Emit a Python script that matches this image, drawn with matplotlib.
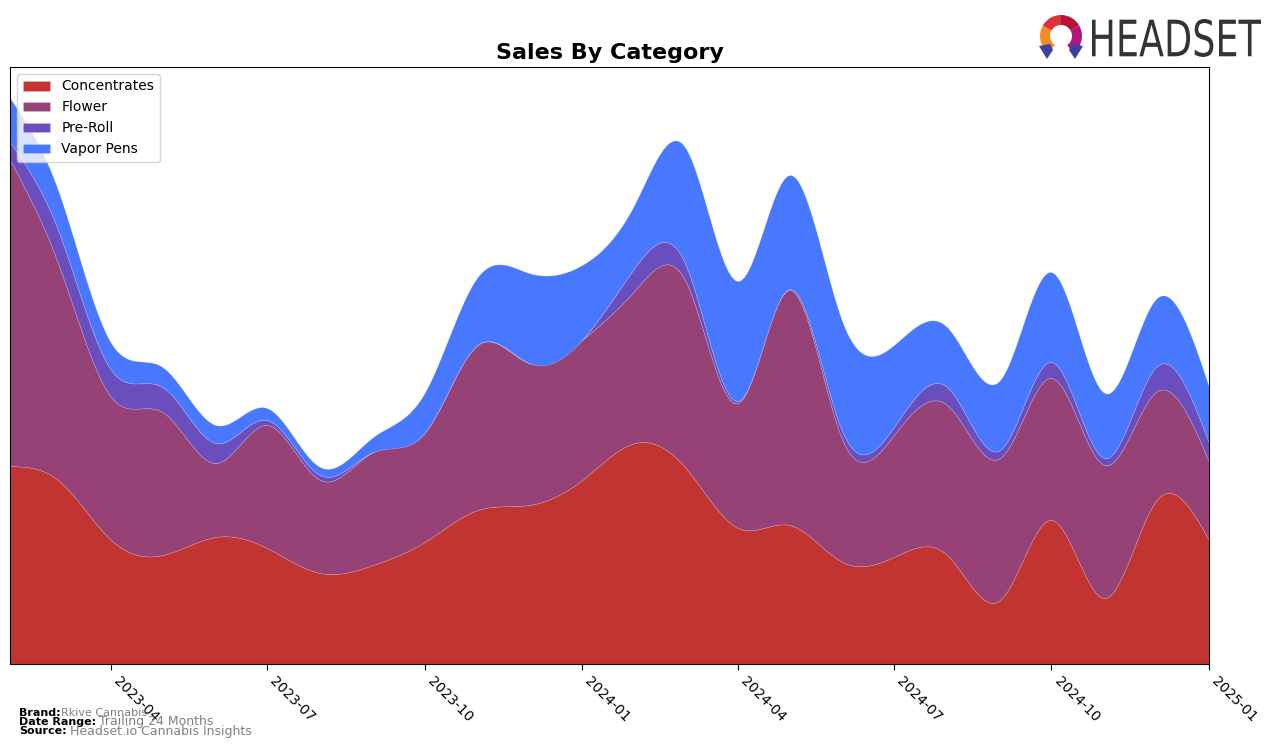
import numpy as np
import pandas as pd
import matplotlib
matplotlib.use("Agg")
import matplotlib.pyplot as plt
import matplotlib.dates as mdates
from matplotlib.patches import Wedge, Polygon, PathPatch
from matplotlib.textpath import TextPath
from matplotlib.font_manager import FontProperties
from matplotlib.transforms import Affine2D

# ---- data (monthly, arbitrary units) ----
months = pd.date_range("2023-02-01", "2025-01-01", freq="MS")
categories = ["Concentrates", "Flower", "Pre-Roll", "Vapor Pens"]
concentrates = [198, 184, 124, 109, 127, 116, 91, 99, 122, 154, 159, 184,
                221, 197, 136, 139, 102, 107, 109, 64, 144, 66, 163, 124]
flower = [306, 217, 143, 143, 74, 123, 93, 113, 109, 165, 142, 140,
          153, 187, 125, 235, 122, 122, 150, 142, 142, 133, 109, 78]
pre_roll = [18, 33, 27, 25, 20, 5, 5, 0, 0, 0, 0, 0,
            23, 17, 2, 1, 8, 8, 18, 8, 16, 7, 25, 19]
vapor_pens = [44, 40, 27, 20, 18, 12, 8, 15, 40, 68, 90, 75,
              64, 116, 120, 114, 110, 82, 60, 70, 90, 65, 68, 56]
tick_dates = pd.date_range("2023-04-01", "2025-01-01", freq="3MS")
colors = ["#C13431", "#964276", "#6A4EBD", "#4878FF"]

brand = "Rkive Cannabis"
date_range = "Trailing 24 Months"
source = "Headset.io Cannabis Insights"


def natural_cubic(x, y, xs):
    x = np.asarray(x, float)
    y = np.asarray(y, float)
    n = len(x)
    h = np.diff(x)
    A = np.zeros((n, n))
    b = np.zeros(n)
    A[0, 0] = 1
    A[-1, -1] = 1
    for i in range(1, n - 1):
        A[i, i - 1] = h[i - 1]
        A[i, i] = 2 * (h[i - 1] + h[i])
        A[i, i + 1] = h[i]
        b[i] = 3 * ((y[i + 1] - y[i]) / h[i] - (y[i] - y[i - 1]) / h[i - 1])
    c = np.linalg.solve(A, b)
    a = y[:-1]
    bb = (y[1:] - y[:-1]) / h - h * (2 * c[:-1] + c[1:]) / 3
    d = (c[1:] - c[:-1]) / (3 * h)
    idx = np.clip(np.searchsorted(x, xs) - 1, 0, n - 2)
    dx = xs - x[idx]
    return a[idx] + bb[idx] * dx + c[idx] * dx ** 2 + d[idx] * dx ** 3


W, H = 1276, 748
fig = plt.figure(figsize=(W / 100, H / 100), dpi=100)
ax = fig.add_axes([10 / W, 1 - 664 / H, (1209 - 10) / W, (664 - 67) / H])

xnum = mdates.date2num(months.to_pydatetime())
xs = np.linspace(xnum[0], xnum[-1], 600)
series = [concentrates, flower, pre_roll, vapor_pens]
smooth = [natural_cubic(xnum, s, xs) for s in series]

ax.stackplot(xs, *smooth, labels=categories, colors=colors, linewidth=0.4,
             edgecolor=(1, 1, 1, 0.25))

ax.set_xlim(xnum[0], xnum[-1])
ax.set_ylim(0, 597)
ax.set_yticks([])
ax.set_xticks(mdates.date2num(tick_dates.to_pydatetime()))
ax.set_xticklabels([d.strftime("%Y-%m") for d in tick_dates],
                   rotation=-45, ha="left", fontsize=10)
ax.tick_params(axis="x", length=4)
ax.set_title("Sales By Category", fontsize=16, fontweight="bold", pad=6)

leg = ax.legend(loc="upper left", fontsize=10, frameon=True,
                bbox_to_anchor=(0.0, 1.0), borderaxespad=0.5)

# footer
fig.text(19 / W, 1 - 713 / H, "Brand:", fontsize=8, fontweight="bold", va="center")
fig.text(61 / W, 1 - 713 / H, brand, fontsize=8, color="gray", va="center")
fig.text(19 / W, 1 - 722 / H, "Date Range:", fontsize=8, fontweight="bold", va="center")
fig.text(99 / W, 1 - 722 / H, date_range, fontsize=9, color="gray", va="center")
fig.text(19 / W, 1 - 731 / H, "Source:", fontsize=8, fontweight="bold", va="center")
fig.text(70 / W, 1 - 731 / H, source, fontsize=9, color="gray", va="center")

# logo text
lax = fig.add_axes([0, 0, 1, 1], facecolor="none")
lax.set_xlim(0, W)
lax.set_ylim(H, 0)
lax.axis("off")
tp = TextPath((0, 0), "HEADSET", size=100, prop=FontProperties(family="DejaVu Sans"))
bb = tp.get_extents()
x0, x1, y0, y1 = 1092, 1261, 19, 57
sx = (x1 - x0) / bb.width
sy = (y1 - y0) / bb.height
tr = Affine2D().translate(-bb.x0, -bb.y0).scale(sx, -sy).translate(x0, y1)
lax.add_patch(PathPatch(tr.transform_path(tp), color="#333333", lw=0))

# logo icon
cx, cy, ro, wd = 1061, 36, 21, 10
segs = [(150, 235, "#F28C28"), (90, 150, "#E0303A"), (30, 90, "#B8123A"),
        (-55, 30, "#B0167E")]
for a0, a1, col in segs:
    lax.add_patch(Wedge((cx, cy), ro, -a1, -a0, width=wd, color=col, lw=0))
lax.add_patch(Polygon([[cx - 22, cy + 10], [cx - 11, cy + 8], [cx - 8, cy + 14],
                       [cx - 14, cy + 23]], closed=True, color="#3B3F9E", lw=0))
lax.add_patch(Polygon([[cx + 22, cy + 10], [cx + 11, cy + 8], [cx + 8, cy + 14],
                       [cx + 14, cy + 23]], closed=True, color="#3B3F9E", lw=0))

fig.savefig("out.png", dpi=100)
